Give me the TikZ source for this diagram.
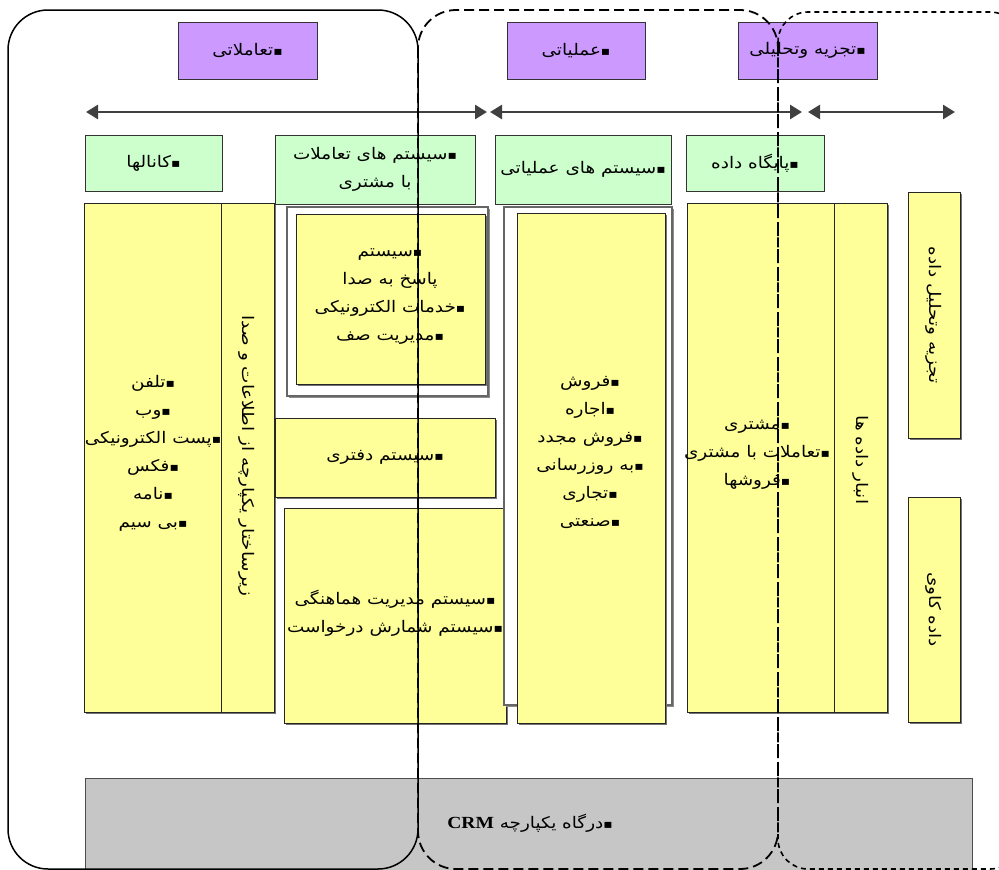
\documentclass[tikz,border=0pt]{standalone}
\usepackage{fontspec}
\usepackage{graphicx}
\usetikzlibrary{arrows.meta,shadows}
\newfontfamily\fa[Script=Arabic]{DejaVu Sans}
\newfontfamily\tnr{Liberation Serif}
\TeXXeTstate=1
\newcommand{\Rt}[1]{\scalebox{1.15}[1]{\beginR #1\endR}}
\newcommand{\bl}{{\fontsize{12}{12}\selectfont ▪}}
\definecolor{purp}{HTML}{CC99FF}
\definecolor{grn}{HTML}{CCFFCC}
\definecolor{yel}{HTML}{FFFF99}
\definecolor{barg}{HTML}{C6C6C6}
\tikzset{
  every node/.style={inner sep=0pt, outer sep=0pt},
  pbox/.style={draw=black!80, line width=0.9pt, fill=purp},
  gbox/.style={draw=black!80, line width=0.9pt, fill=grn},
  ybox/.style={draw=black!85, line width=0.9pt, fill=yel, drop shadow={shadow xshift=2pt, shadow yshift=-2pt, fill=black!55, opacity=1}},
  frbox/.style={draw=black!60, line width=2.2pt, fill=white, drop shadow={shadow xshift=1.5pt, shadow yshift=-1.5pt, fill=black!45, opacity=1}},
  barbox/.style={draw=black!70, line width=0.9pt, fill=barg},
  txt/.style={font=\fa\fontsize{16}{28}\selectfont, align=center},
  vtxt/.style={txt, rotate=-90},
  conn/.style={line width=2.6pt, draw=black!75, arrows={Triangle[length=12pt,width=14pt]-Triangle[length=12pt,width=14pt]}},
  solidfr/.style={draw=black, line width=1.5pt, rounded corners=40pt},
  longdash/.style={draw=black, line width=1.8pt, dash pattern=on 10pt off 5pt, rounded corners=38pt},
  shortdash/.style={draw=black, line width=1.6pt, dash pattern=on 5pt off 4pt, rounded corners=30pt}
}
\begin{document}
\begin{tikzpicture}[x=1pt, y=-1pt]
\useasboundingbox (0,0) rectangle (999,870);
\fill[white] (0,0) rectangle (999,870);
% header boxes
\node[pbox, minimum width=139, minimum height=57] (h1) at (247.5,50.5) {};
\node[pbox, minimum width=138, minimum height=57] (h2) at (576,50.5) {};
\node[pbox, minimum width=139, minimum height=57] (h3) at (807.5,50.5) {};
\node[txt] (th1) at (h1) {\Rt{\bl تعاملاتی}};
\node[txt] (th2) at (h2) {\Rt{\bl عملیاتی}};
\node[txt] (th3) at (h3) {\Rt{\bl تجزیه وتحلیلی}};
% arrows
\coordinate (a1) at (86,112);
\coordinate (a2) at (487,112);
\coordinate (a3) at (490,112);
\coordinate (a4) at (802,112);
\coordinate (a5) at (808,112);
\coordinate (a6) at (955,112);
\draw[conn] (a1) -- (a2);
\draw[conn] (a3) -- (a4);
\draw[conn] (a5) -- (a6);
% green boxes
\node[gbox, minimum width=137, minimum height=56] (g1) at (153.5,163) {};
\node[gbox, minimum width=200, minimum height=69] (g2) at (375,169.5) {};
\node[gbox, minimum width=176, minimum height=69] (g3) at (583,169.5) {};
\node[gbox, minimum width=138, minimum height=56] (g4) at (755,163) {};
\node[txt] (tg1) at (g1) {\Rt{\bl کانالها}};
\node[txt] (tg2) at (g2) {\Rt{\bl سیستم های تعاملات}\\\Rt{با مشتری}};
\node[txt] (tg3) at (g3) {\Rt{\bl سیستم های عملیاتی}};
\node[txt] (tg4) at (g4) {\Rt{\bl پایگاه داده}};
% channels
\node[ybox, minimum width=137, minimum height=509] (y1) at (152.5,457.5) {};
\node[ybox, minimum width=53, minimum height=509] (y2) at (247.5,457.5) {};
\node[txt] (ty1) at (153,453) {\Rt{\bl تلفن}\\\Rt{\bl وب}\\\Rt{\bl پست الکترونیکی}\\\Rt{\bl فکس}\\\Rt{\bl نامه}\\\Rt{\bl بی سیم}};
\node[vtxt] (ty2) at (247,456) {\Rt{زیرساختار یکپارچه از اطلاعات و صدا}};
% interaction systems
\node[frbox, minimum width=201, minimum height=189] (f1) at (387.5,301.5) {};
\node[ybox, minimum width=189, minimum height=170] (y3) at (390.5,299) {};
\node[txt] (ty3) at (390,297) {\Rt{\bl سیستم}\\\Rt{پاسخ به صدا}\\\Rt{\bl خدمات الکترونیکی}\\\Rt{\bl مدیریت صف}};
\node[ybox, minimum width=220, minimum height=79] (y4) at (385,457.5) {};
\node[txt] (ty4) at (y4) {\Rt{\bl سیستم دفتری}};
\node[ybox, minimum width=222, minimum height=215] (y5) at (395,615.5) {};
\node[txt] (ty5) at (395,613) {\Rt{\bl سیستم مدیریت هماهنگی}\\\Rt{\bl سیستم شمارش  درخواست}};
% operational
\node[frbox, minimum width=168, minimum height=498] (f2) at (588,456) {};
\node[ybox, minimum width=148, minimum height=510] (y6) at (591,468) {};
\node[txt] (ty6) at (590,452) {\Rt{\bl فروش}\\\Rt{\bl اجاره}\\\Rt{\bl فروش مجدد}\\\Rt{\bl به روزرسانی}\\\Rt{\bl تجاری}\\\Rt{\bl صنعتی}};
% data
\node[ybox, minimum width=147, minimum height=509] (y7) at (760.5,457.5) {};
\node[ybox, minimum width=53, minimum height=509] (y8) at (860.5,457.5) {};
\node[txt] (ty7) at (757,455) {\Rt{\bl مشتری}\\\Rt{\bl تعاملات با مشتری}\\\Rt{\bl فروشها}};
\node[vtxt] (ty8) at (861,460) {\Rt{انبار داده ها}};
% analysis
\node[ybox, minimum width=52, minimum height=246] (y9) at (934,315) {};
\node[ybox, minimum width=52, minimum height=225] (y10) at (934,609.5) {};
\node[vtxt] (ty9) at (y9) {\Rt{تجزیه وتحلیل داده}};
\node[vtxt] (ty10) at (y10) {\Rt{داده کاوی}};
% portal
\node[barbox, minimum width=887, minimum height=94] (bar) at (528.5,825) {};
\node[txt] (tbar) at (530,823) {\Rt{\bl درگاه یکپارچه \beginL{\tnr\bfseries\fontsize{17}{18}\selectfont CRM}\endL}};
% frames
\draw[solidfr] (8,10) rectangle (418,869);
\draw[longdash] (418,10) rectangle (778,869);
\draw[shortdash] (778,12) rectangle (1020,869);
\end{tikzpicture}
\end{document}
